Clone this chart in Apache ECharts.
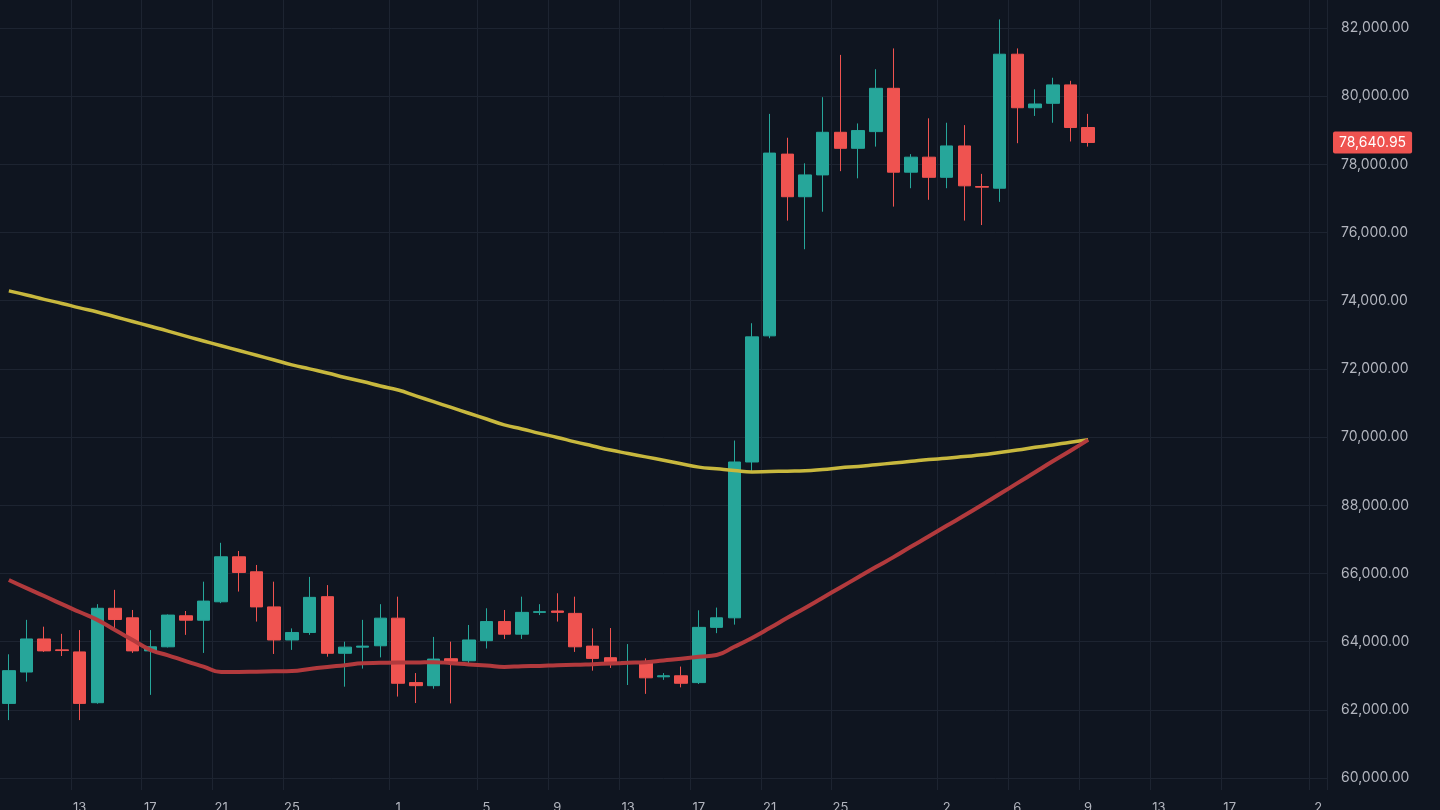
<!DOCTYPE html>
<html>
<head>
<meta charset="utf-8">
<script src="https://cdn.jsdelivr.net/npm/echarts@6/dist/echarts.min.js"></script>
<style>
html, body { margin: 0; padding: 0; background: #0f1520; }
#chart { width: 1440px; height: 810px; }
</style>
</head>
<body>
<div id="chart"></div>
<script>
/**
 * 数据
 */
// 每根K线: [开, 收, 低, 高]
var candles = [
    [62190, 63150, 61700, 63630], [63110, 64080, 62830, 64640], [64080, 63730, 63700, 64440],
    [63760, 63740, 63580, 64230], [63700, 62190, 61700, 64340], [62210, 64980, 62180, 65100],
    [64980, 64650, 64390, 65520], [64700, 63730, 63670, 64930], [63730, 63850, 62440, 64340],
    [63850, 64780, 63830, 64800], [64760, 64630, 64200, 64900], [64630, 65190, 63670, 65760],
    [65170, 66490, 65130, 66900], [66490, 66030, 65470, 66660], [66050, 65020, 64590, 66250],
    [65020, 64050, 63640, 65760], [64050, 64270, 63760, 64390], [64270, 65300, 64200, 65900],
    [65320, 63660, 63560, 65660], [63660, 63840, 62680, 64000], [63840, 63870, 63210, 64640],
    [63880, 64690, 63540, 65100], [64690, 62780, 62390, 65320], [62800, 62710, 62200, 63080],
    [62710, 63490, 62620, 64140], [63500, 63420, 62190, 64000], [63440, 64050, 63330, 64490],
    [64030, 64590, 63800, 64980], [64590, 64220, 64080, 64930], [64220, 64860, 64080, 65320],
    [64860, 64880, 64780, 65100], [64900, 64860, 64590, 65420], [64830, 63850, 63700, 65320],
    [63870, 63510, 63150, 64390], [63530, 63380, 63230, 64400], [63390, 63420, 62730, 63930],
    [63410, 62940, 62470, 63510], [62970, 63000, 62880, 63080], [63000, 62780, 62660, 63270],
    [62800, 64420, 62760, 64920], [64420, 64700, 64250, 65000], [64700, 69270, 64500, 69900],
    [69270, 72940, 68980, 73340], [72970, 78330, 72900, 79480], [78300, 77050, 76350, 78780],
    [77050, 77690, 75510, 78030], [77690, 78940, 76610, 79970], [78940, 78470, 77800, 81210],
    [78470, 78990, 77590, 79200], [78960, 80230, 78520, 80790], [80230, 77770, 76760, 81400],
    [77770, 78210, 77300, 78300], [78210, 77620, 76960, 79350], [77620, 78540, 77300, 79220],
    [78540, 77370, 76350, 79150], [77350, 77330, 76220, 77720], [77300, 81230, 76900, 82250],
    [81230, 79660, 78620, 81400], [79660, 79770, 79420, 80200], [79790, 80330, 79220, 80540],
    [80330, 79080, 78670, 80450], [79080, 78641, 78520, 79480]
];
// 黄线 (长期均线)
var maLong = [
    74290, 74170, 74040, 73920, 73790, 73670, 73530, 73390, 73250, 73110, 72960, 72820,
    72680, 72540, 72400, 72260, 72120, 72000, 71880, 71750, 71630, 71500, 71380, 71210,
    71040, 70870, 70700, 70530, 70360, 70240, 70110, 69990, 69860, 69740, 69620, 69520,
    69420, 69320, 69220, 69120, 69070, 69020, 68980, 68990, 69000, 69010, 69050, 69100,
    69140, 69190, 69240, 69290, 69340, 69380, 69430, 69480, 69550, 69620, 69700, 69770,
    69850, 69920
];
// 红线 (短期均线)
var maShort = [
    65810, 65570, 65340, 65100, 64870, 64640, 64340, 64050, 63760, 63600, 63430, 63270,
    63110, 63110, 63120, 63130, 63140, 63200, 63260, 63310, 63370, 63380, 63390, 63390,
    63400, 63370, 63330, 63300, 63260, 63280, 63290, 63310, 63320, 63340, 63360, 63380,
    63400, 63450, 63500, 63560, 63610, 63850, 64110, 64400, 64700, 64990, 65290, 65590,
    65890, 66190, 66480, 66790, 67090, 67400, 67700, 68010, 68330, 68650, 68970, 69290,
    69600, 69920
];
// X轴日期标签 (索引 -> 文本)
var dateTicks = {4: '13', 8: '17', 12: '21', 16: '25', 22: '1', 27: '5', 31: '9', 35: '13',
    39: '17', 43: '21', 47: '25', 53: '2', 57: '6', 61: '9', 65: '13', 69: '17', 74: '2'};
// Y轴刻度和标签
var priceValues = [60000, 62000, 64000, 66000, 68000, 70000, 72000, 74000, 76000, 78000, 80000, 82000];
var priceLabels = ['60,000.00', '62,000.00', '64,000.00', '66,000.00', '88,000.00', '70,000.00',
    '72,000.00', '74,000.00', '76,000.00', '78,000.00', '80,000.00', '82,000.00'];
var lastPrice = 78640.95;
var slotCount = 75;

var categories = [];
for (var i = 0; i < slotCount; i++) {
    categories.push(dateTicks[i] || '');
}

var chart = echarts.init(document.getElementById('chart'));
var gridColor = '#1d2431';
var option = {
    backgroundColor: '#0f1520',
    animation: false,
    grid: {left: 0, right: 113, top: 0, bottom: 20, containLabel: false, outerBoundsMode: 'none'},
    xAxis: {
        type: 'category',
        data: categories,
        axisLine: {show: false},
        axisTick: {show: false},
        axisLabel: {
            interval: 0,
            color: '#b2b5be',
            fontSize: 13,
            margin: 12,
            fontFamily: 'Inter'
        },
        splitLine: {
            show: true,
            interval: function (idx) { return dateTicks[idx] !== undefined; },
            lineStyle: {color: gridColor, width: 1}
        }
    },
    yAxis: {
        type: 'value',
        position: 'right',
        min: 59650,
        max: 82820,
        axisLine: {show: false},
        axisTick: {show: false, customValues: priceValues},
        axisLabel: {
            customValues: priceValues,
            color: '#b2b5be',
            fontSize: 14,
            margin: 14,
            fontFamily: 'Inter',
            formatter: function (v) { return priceLabels[priceValues.indexOf(v)] || ''; }
        },
        splitLine: {lineStyle: {color: gridColor, width: 1}}
    },
    series: [
        {
            name: 'MA-long',
            type: 'line',
            data: maLong,
            smooth: true,
            showSymbol: false,
            lineStyle: {color: '#c8b83e', width: 3.5}
        },
        {
            name: 'MA-short',
            type: 'line',
            data: maShort,
            smooth: true,
            showSymbol: false,
            lineStyle: {color: '#b23a3d', width: 4}
        },
        {
            name: 'K',
            type: 'candlestick',
            data: candles,
            barWidth: 13,
            itemStyle: {
                color: '#26a69a',
                borderColor: '#26a69a',
                color0: '#ef5350',
                borderColor0: '#ef5350'
            },
            markLine: {
                symbol: ['none', 'none'],
                silent: true,
                animation: false,
                data: [{yAxis: lastPrice}],
                lineStyle: {color: 'rgba(0,0,0,0)', width: 0, type: 'solid'},
                label: {
                    show: true,
                    position: 'end',
                    distance: 6,
                    formatter: '78,640.95',
                    color: '#ffffff',
                    backgroundColor: '#ef5350',
                    padding: [4, 6],
                    borderRadius: 2,
                    fontSize: 14,
                    fontFamily: 'Inter'
                }
            }
        }
    ]
};
chart.setOption(option);
</script>
</body>
</html>
